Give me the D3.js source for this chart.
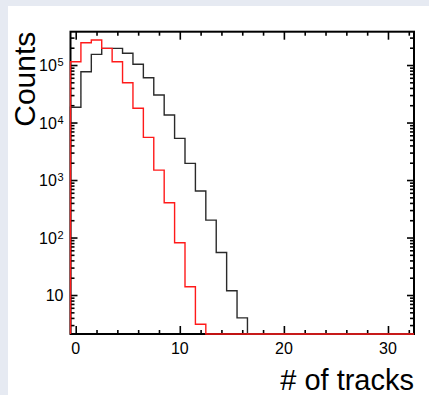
<!DOCTYPE html>
<html>
<head>
<meta charset="utf-8">
<script src="https://cdn.jsdelivr.net/npm/d3@7"></script>
<style>
  html, body { margin: 0; padding: 0; background: #e6eaf2; }
  svg { display: block; }
  text { font-family: "Liberation Sans", Arial, Helvetica, sans-serif; fill: #000; }
</style>
</head>
<body>
<svg id="chart" width="429" height="395"></svg>
<script>
// Track multiplicity histograms, one entry per integer bin (0..32)
const bins = d3.range(0, 33);
const allTracks = [18400, 76600, 153000, 195000, 195000, 160000, 103000, 60100, 30100, 13500,
                   5300, 1950, 644, 201, 55, 11.9, 4.0, 0, 0, 0,
                   0, 0, 0, 0, 0, 0, 0, 0, 0, 0,
                   0, 0, 0];
const selTracks = [114000, 244000, 272000, 195000, 114000, 49200, 17700, 5530, 1490, 403,
                   81, 13.9, 3.1, 0, 0, 0, 0, 0, 0, 0,
                   0, 0, 0, 0, 0, 0, 0, 0, 0, 0,
                   0, 0, 0];
const xMajorTicks = [0, 10, 20, 30];
const xMinorTicks = [2, 4, 6, 8, 12, 14, 16, 18, 22, 24, 26, 28, 32];
const yMajorTicks = [10, 100, 1000, 10000, 100000];
const yTickLabels = [["10", ""], ["10", "2"], ["10", "3"], ["10", "4"], ["10", "5"]];
const xTitle = "# of tracks";
const yTitle = "Counts";

const svg = d3.select("#chart");
const W = 429, H = 395;
const L = 70.5, R = 414, T = 31.7, B = 334;

svg.append("rect").attr("x", 0).attr("y", 0).attr("width", W).attr("height", H).attr("fill", "#e6eaf2");
svg.append("rect").attr("x", 8).attr("y", 6).attr("width", W - 8).attr("height", H - 6).attr("fill", "#ffffff");

const x = d3.scaleLinear().domain([-0.5, 32.5]).range([L, R]);
const yMin = 2.1, yMax = 3.8e5;
const y = d3.scaleLog().domain([yMin, yMax]).range([B, T]);

// minor log ticks 2..9 per decade inside the frame
const yMinorTicks = [];
for (let e = 0; e <= 5; e++) {
  for (let m = 2; m <= 9; m++) {
    const v = m * Math.pow(10, e);
    if (v >= yMin && v <= yMax) yMinorTicks.push(v);
  }
}

const g = svg.append("g");

// ticks on all four sides, pointing inward
function styleAxis(sel) {
  sel.select(".domain").remove();
  sel.selectAll(".tick line").attr("stroke", "#000").attr("stroke-width", 1.6);
  sel.selectAll(".tick text").remove();
}
g.append("g").attr("transform", `translate(0,${B})`)
  .call(d3.axisBottom(x).tickValues(xMajorTicks).tickSize(-8)).call(styleAxis);
g.append("g").attr("transform", `translate(0,${B})`)
  .call(d3.axisBottom(x).tickValues(xMinorTicks).tickSize(-4)).call(styleAxis);
g.append("g").attr("transform", `translate(0,${T})`)
  .call(d3.axisTop(x).tickValues(xMajorTicks).tickSize(-8)).call(styleAxis);
g.append("g").attr("transform", `translate(0,${T})`)
  .call(d3.axisTop(x).tickValues(xMinorTicks).tickSize(-4)).call(styleAxis);
g.append("g").attr("transform", `translate(${L},0)`)
  .call(d3.axisLeft(y).tickValues(yMajorTicks).tickSize(-7)).call(styleAxis);
g.append("g").attr("transform", `translate(${L},0)`)
  .call(d3.axisLeft(y).tickValues(yMinorTicks).tickSize(-4)).call(styleAxis);
g.append("g").attr("transform", `translate(${R},0)`)
  .call(d3.axisRight(y).tickValues(yMajorTicks).tickSize(-7)).call(styleAxis);
g.append("g").attr("transform", `translate(${R},0)`)
  .call(d3.axisRight(y).tickValues(yMinorTicks).tickSize(-4)).call(styleAxis);

// frame
g.append("rect").attr("x", L).attr("y", T).attr("width", R - L).attr("height", B - T)
  .attr("fill", "none").attr("stroke", "#000").attr("stroke-width", 2);

// step outline for a histogram; empty bins sit on the frame bottom
function stepPoints(counts) {
  const pts = [[-0.5, yMin]];
  bins.forEach((b, i) => {
    const v = counts[i] > 0 ? Math.max(counts[i], yMin) : yMin;
    pts.push([b - 0.5, v]);
    pts.push([b + 0.5, v]);
  });
  pts.push([32.5, yMin]);
  return pts;
}
const line = d3.line().x(d => x(d[0])).y(d => y(d[1]));

g.append("path").attr("d", line(stepPoints(allTracks)))
  .attr("fill", "none").attr("stroke", "#2a2a2a").attr("stroke-width", 1.4);
g.append("path").attr("d", line(stepPoints(selTracks)))
  .attr("fill", "none").attr("stroke", "#ff1a1a").attr("stroke-width", 1.4);

// x tick labels
g.selectAll(".xlab").data(xMajorTicks).enter().append("text")
  .attr("x", d => x(d)).attr("y", 354)
  .attr("text-anchor", "middle").attr("font-size", 16)
  .text(d => d);

// y tick labels with exponent superscripts
yMajorTicks.forEach((v, i) => {
  const t = g.append("text")
    .attr("x", 63.5).attr("y", y(v) + 6)
    .attr("text-anchor", "end").attr("font-size", 16);
  t.append("tspan").text(yTickLabels[i][0]);
  if (yTickLabels[i][1]) {
    t.append("tspan").attr("font-size", 11).attr("dy", -5).attr("dx", 0.5).text(yTickLabels[i][1]);
  }
});

// axis titles
svg.append("text").attr("x", R).attr("y", 390)
  .attr("text-anchor", "end").attr("font-size", 29).text(xTitle);
svg.append("text").attr("transform", `translate(35,${T}) rotate(-90)`)
  .attr("text-anchor", "end").attr("font-size", 30).text(yTitle);
</script>
</body>
</html>
